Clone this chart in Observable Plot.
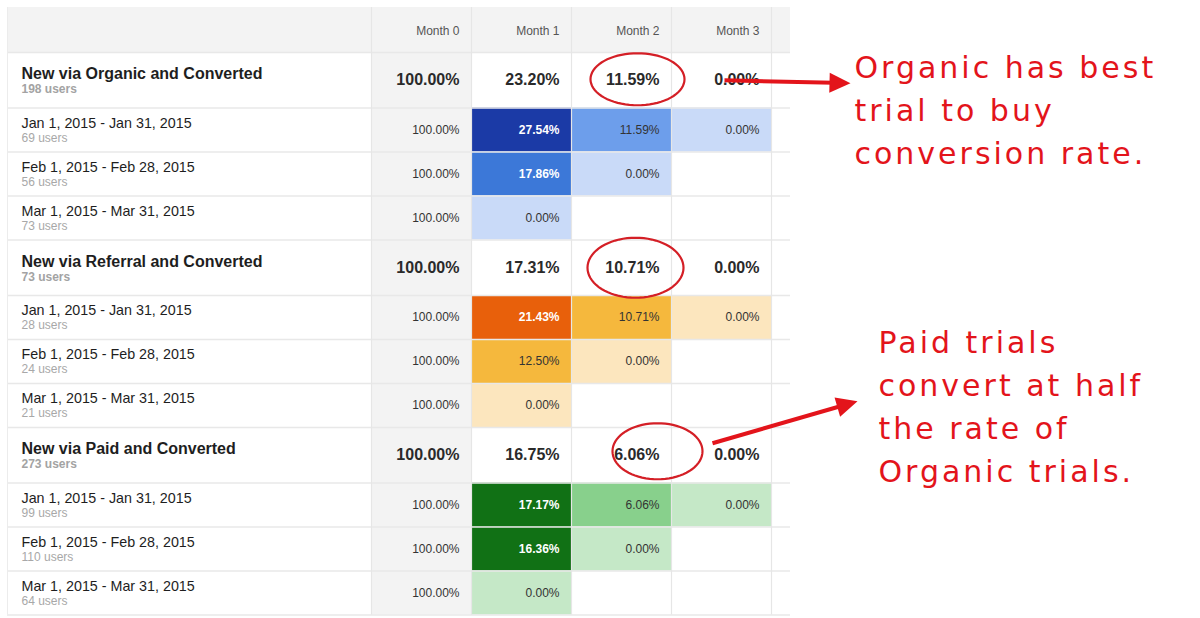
<!DOCTYPE html>
<html>
<head>
<meta charset="utf-8">
<script src="https://cdn.jsdelivr.net/npm/d3@7"></script>
<script src="https://cdn.jsdelivr.net/npm/@observablehq/plot@0.6"></script>
<style>
  html, body { margin: 0; padding: 0; background: #fff; }
  #chart { width: 1200px; height: 618px; }
</style>
</head>
<body>
<div id="chart"></div>
<script>
// ---------- DATA ----------
const months = ["Month 0", "Month 1", "Month 2", "Month 3"];
const groupKeys = ["organic", "referral", "paid"];
const groupLabels = ["New via Organic and Converted", "New via Referral and Converted", "New via Paid and Converted"];
const groupUsers = [198, 73, 273];
const groupRates = [
  [100.00, 23.20, 11.59, 0.00],
  [100.00, 17.31, 10.71, 0.00],
  [100.00, 16.75, 6.06, 0.00]
];
const cohortLabels = ["Jan 1, 2015 - Jan 31, 2015", "Feb 1, 2015 - Feb 28, 2015", "Mar 1, 2015 - Mar 31, 2015"];
const organicUsers = [69, 56, 73];
const referralUsers = [28, 24, 21];
const paidUsers = [99, 110, 64];
const organicRates = [[100.00, 27.54, 11.59, 0.00], [100.00, 17.86, 0.00], [100.00, 0.00]];
const referralRates = [[100.00, 21.43, 10.71, 0.00], [100.00, 12.50, 0.00], [100.00, 0.00]];
const paidRates = [[100.00, 17.17, 6.06, 0.00], [100.00, 16.36, 0.00], [100.00, 0.00]];
const notes = [
  "Organic has best\ntrial to buy\nconversion rate.",
  "Paid trials\nconvert at half\nthe rate of\nOrganic trials."
];

// ---------- STYLES ----------
const palette = {
  organic: ["#c9daf8", "#6d9eeb", "#3c78d8", "#1b3aa6"],
  referral: ["#fce6be", "#f5b83d", "#ee8a1f", "#e8600b"],
  paid: ["#c5e8c7", "#88d08c", "#3f9f43", "#117115"]
};
const red = "#e3141b";
const font = "'Liberation Sans', Arial, Helvetica, sans-serif";
const noteFont = "'DejaVu Sans', sans-serif";

// ---------- LAYOUT (table units: 1 x-unit = one month column, 1 y-unit = one cohort row) ----------
const X0 = -3.64, XEND = 4.19;
const HEADER_H = 45 / 44, GROUP_H = 55.5 / 44, ROW_H = 1;
const xOpts = {type: "linear", domain: [-3.71, 8.29], range: [0, 1200]};
const yOpts = {type: "linear", domain: [-52 / 44, 566 / 44], range: [0, 618]};
const xS = Plot.scale({x: xOpts});
const yS = Plot.scale({y: yOpts});

const cohortUsers = [organicUsers, referralUsers, paidUsers];
const cohortRates = [organicRates, referralRates, paidRates];

const rows = [];
let cur = 0;
groupKeys.forEach((g, gi) => {
  rows.push({kind: "group", g, gi, label: groupLabels[gi], users: groupUsers[gi], rates: groupRates[gi], y1: cur, y2: cur + GROUP_H});
  cur += GROUP_H;
  cohortLabels.forEach((c, ci) => {
    rows.push({kind: "cohort", g, gi, ci, label: c, users: cohortUsers[gi][ci], rates: cohortRates[gi][ci], y1: cur, y2: cur + ROW_H});
    cur += ROW_H;
  });
});
const bottom = cur;
rows.forEach(r => r.ym = (r.y1 + r.y2) / 2);

const groupMax = groupKeys.map((g, gi) => d3.max(cohortRates[gi].flatMap(a => a.slice(1))));
const cells = rows.flatMap(r => r.rates.map((v, i) => ({row: r, month: i, v, x1: i, x2: i + 1, y1: r.y1, y2: r.y2, ym: r.ym})));
cells.forEach(c => {
  const ratio = c.v / groupMax[c.row.gi];
  c.bucket = ratio < 0.05 ? 0 : ratio < 0.6 ? 1 : ratio < 0.9 ? 2 : 3;
  c.colored = c.row.kind === "cohort" && c.month > 0;
  c.key = c.row.g + c.bucket;
});
const colored = cells.filter(c => c.colored);
const groupCells = cells.filter(c => c.row.kind === "group");
const plainCohortCells = cells.filter(c => c.row.kind === "cohort" && !(c.colored && c.bucket >= 2));
const darkCells = cells.filter(c => c.colored && c.bucket >= 2);
const fmt = v => d3.format(".2f")(v) + "%";

const colorDomain = groupKeys.flatMap(g => [0, 1, 2, 3].map(b => g + b));
const colorRange = groupKeys.flatMap(g => palette[g]);

const rowEdges = [0, ...rows.map(r => r.y2)];
const colEdges = [0, 1, 2, 3, 4];

// ---------- ANNOTATIONS ----------
const gRow = gi => rows.find(r => r.kind === "group" && r.gi === gi);
const ellipses = [
  {gi: 0, month: 2, dx: 16, dy: -1, rx: 47, ry: 26},
  {gi: 1, month: 2, dx: 14, dy: 0, rx: 48, ry: 30},
  {gi: 2, month: 2, dx: 36, dy: -4, rx: 45, ry: 28}
];
const arrows = [
  {x1: 3.53, y1: gRow(0).ym, x2: 4.79, y2: gRow(0).ym + 3 / 44},
  {x1: 3.41, y1: gRow(2).ym - 12 / 44, x2: 4.86, y2: gRow(2).ym - 54 / 44}
];
const noteAnchors = [
  {x: 4.83, y: gRow(0).y1 - 5 / 44},
  {x: 5.07, y: gRow(1).y2 + 27 / 44}
];

function ellipseSymbol(rx, ry) {
  return {draw(ctx) {
    const n = 72;
    for (let k = 0; k <= n; k++) {
      const a = (k / n) * 2 * Math.PI;
      const px = rx * Math.cos(a), py = ry * Math.sin(a);
      if (k === 0) ctx.moveTo(px, py); else ctx.lineTo(px, py);
    }
    ctx.closePath();
  }};
}
function headSymbol(theta, L, W) {
  return {draw(ctx) {
    const c = Math.cos(theta), s = Math.sin(theta);
    const bx = -L * c, by = -L * s;
    ctx.moveTo(0, 0);
    ctx.lineTo(bx - W * s, by + W * c);
    ctx.lineTo(bx + W * s, by - W * c);
    ctx.closePath();
  }};
}

const annotationMarks = [];
ellipses.forEach(e => {
  const r = gRow(e.gi);
  annotationMarks.push(Plot.dot([e], {
    x: () => e.month + 0.5, y: () => r.ym, dx: e.dx, dy: e.dy, r: 1,
    symbol: ellipseSymbol(e.rx, e.ry), fill: "none", stroke: "#d41f26", strokeWidth: 2.2
  }));
});
arrows.forEach(a => {
  const px1 = xS.apply(a.x1), py1 = yS.apply(a.y1), px2 = xS.apply(a.x2), py2 = yS.apply(a.y2);
  const theta = Math.atan2(py2 - py1, px2 - px1);
  const L = 21;
  const sx = xS.invert(px2 - (L - 4) * Math.cos(theta));
  const sy = yS.invert(py2 - (L - 4) * Math.sin(theta));
  annotationMarks.push(Plot.link([a], {x1: "x1", y1: "y1", x2: () => sx, y2: () => sy, stroke: red, strokeWidth: 4}));
  annotationMarks.push(Plot.dot([a], {x: "x2", y: "y2", r: 1, symbol: headSymbol(theta, L, 10), fill: red, stroke: "none"}));
});
annotationMarks.push(Plot.text(notes, {
  x: (d, i) => noteAnchors[i].x, y: (d, i) => noteAnchors[i].y, text: d => d,
  textAnchor: "start", lineAnchor: "top", lineHeight: 1.433, fontSize: 30,
  fontFamily: noteFont, fill: red
}));

// ---------- CHART ----------
const chart = Plot.plot({
  width: 1200, height: 618,
  marginTop: 0, marginRight: 0, marginBottom: 0, marginLeft: 0,
  x: {...xOpts, axis: null},
  y: {...yOpts, axis: null},
  color: {type: "ordinal", domain: colorDomain, range: colorRange},
  style: {fontFamily: font, background: "#fff"},
  marks: [
    // header background
    Plot.rect([months], {x1: () => X0, x2: () => XEND, y1: () => -HEADER_H, y2: () => 0, fill: "#f3f3f3"}),
    // month 0 column background
    Plot.rect([months[0]], {x1: () => 0, x2: () => 1, y1: () => 0, y2: () => bottom, fill: "#f3f3f3"}),
    // heat cells
    Plot.rect(colored, {x1: "x1", x2: "x2", y1: "y1", y2: "y2", fill: "key"}),
    // grid
    Plot.ruleY(rowEdges, {x1: X0, x2: XEND, stroke: "#e8e8e8", strokeWidth: 1.6}),
    Plot.ruleX(colEdges, {y1: -HEADER_H, y2: bottom, stroke: "#e6e6e6", strokeWidth: 1.2}),
    Plot.ruleX([X0], {y1: -HEADER_H, y2: bottom, stroke: "#ececec", strokeWidth: 1}),
    // header labels
    Plot.text(months, {x: (d, i) => i + 1, y: () => -HEADER_H / 2, dx: -12, dy: 1, text: d => d, textAnchor: "end", fontSize: 12, fill: "#555"}),
    // row labels
    Plot.text(rows.filter(r => r.kind === "group"), {x: () => X0, y: "ym", dx: 14, dy: -6, text: "label", textAnchor: "start", fontSize: 16, fontWeight: "bold", fill: "#1e1e1e"}),
    Plot.text(rows.filter(r => r.kind === "group"), {x: () => X0, y: "ym", dx: 14, dy: 9, text: d => d.users + " users", textAnchor: "start", fontSize: 12, fontWeight: "bold", fill: "#a3a3a3"}),
    Plot.text(rows.filter(r => r.kind === "cohort"), {x: () => X0, y: "ym", dx: 14, dy: -7, text: "label", textAnchor: "start", fontSize: 14.3, fill: "#1e1e1e"}),
    Plot.text(rows.filter(r => r.kind === "cohort"), {x: () => X0, y: "ym", dx: 14, dy: 8, text: d => d.users + " users", textAnchor: "start", fontSize: 12, fill: "#a8a8a8"}),
    // values
    Plot.text(groupCells, {x: "x2", y: "ym", dx: -12, text: d => fmt(d.v), textAnchor: "end", fontSize: 16, fontWeight: "bold", fill: "#2a2a2a"}),
    Plot.text(plainCohortCells, {x: "x2", y: "ym", dx: -12, text: d => fmt(d.v), textAnchor: "end", fontSize: 12, fill: "#333"}),
    Plot.text(darkCells, {x: "x2", y: "ym", dx: -12, text: d => fmt(d.v), textAnchor: "end", fontSize: 12, fontWeight: "bold", fill: "#fff"}),
    ...annotationMarks
  ]
});
d3.select(chart).selectAll("g")
  .filter(function() { const f = this.getAttribute("font-family"); return f && f.includes("DejaVu"); })
  .attr("letter-spacing", "3px")
  .selectAll("text").attr("letter-spacing", "3px");
document.getElementById("chart").appendChild(chart);
</script>
</body>
</html>
